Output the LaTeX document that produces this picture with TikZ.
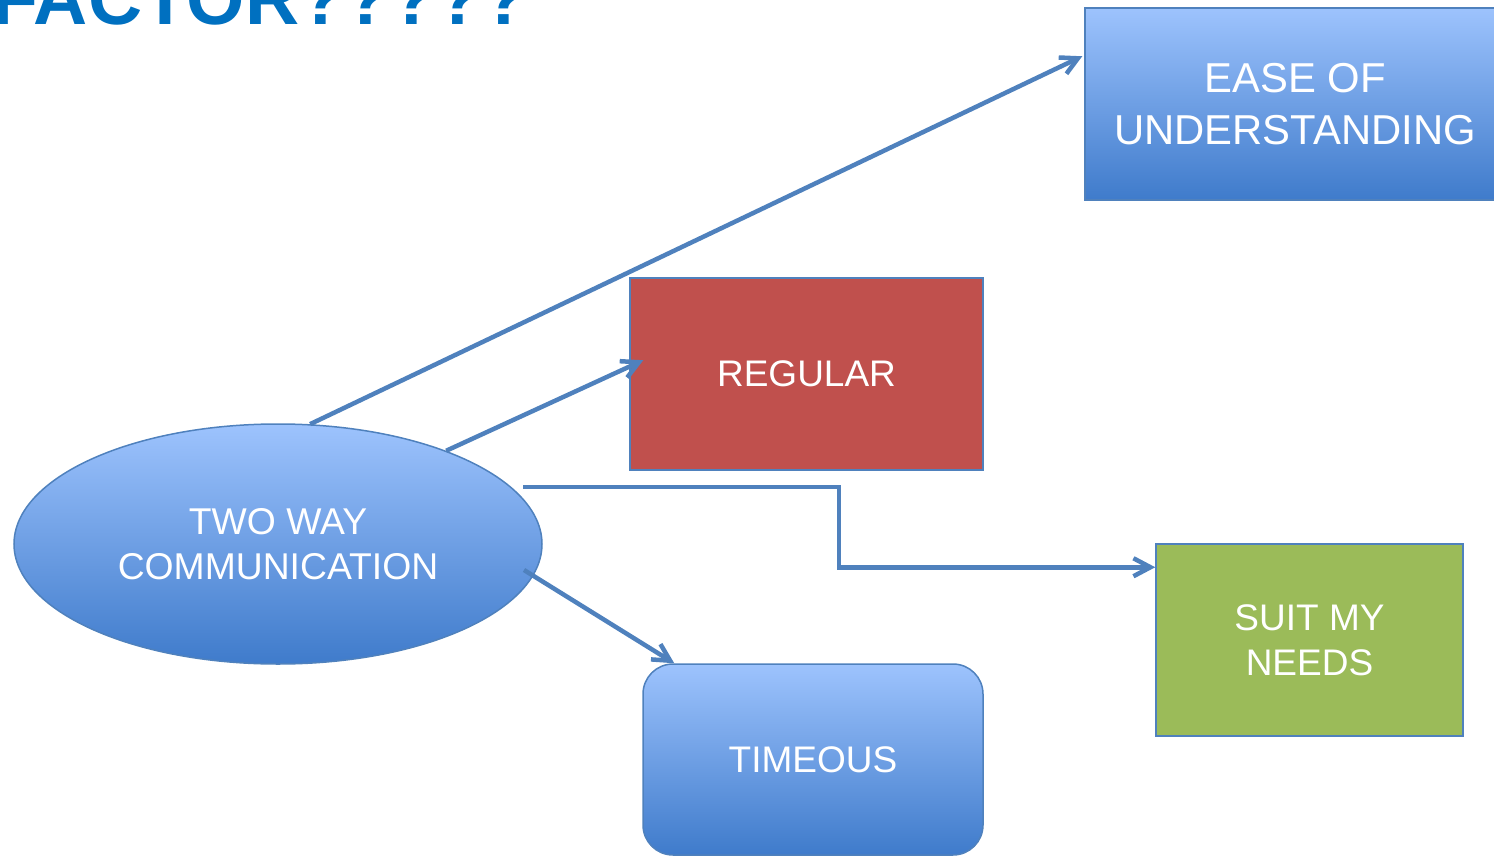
\documentclass[tikz,border=0pt]{standalone}
\usepackage{fontspec}
\setmainfont{Liberation Sans}
\usetikzlibrary{arrows.meta,shapes.geometric,calc}
\definecolor{edgeblue}{HTML}{4F81BD}
\definecolor{gradtop}{HTML}{9DC3FD}
\definecolor{gradbot}{HTML}{3F7BCB}
\definecolor{regred}{HTML}{C0504D}
\definecolor{suitgreen}{HTML}{9BBB59}
\definecolor{titleblue}{HTML}{0070C0}
\begin{document}
\begin{tikzpicture}[x=1pt,y=-1pt,
  box/.style={draw=edgeblue, line width=1.5pt, text=white, align=center, inner sep=0pt},
  gradfill/.style={top color=gradtop, bottom color=gradbot},
  label36/.style={font=\fontsize{37}{45}\selectfont},
  conn/.style={draw=edgeblue, line width=4.5pt, -{Straight Barb[length=17pt,width=18pt]}}]
\useasboundingbox (0,0) rectangle (1494,856);

% heading, partly above the page
\node[anchor=base west, inner sep=0pt, text=titleblue,
      font=\fontsize{75}{75}\selectfont\bfseries] (title) at (-8,25) {FACTOR?????};

% central ellipse and the four outcome boxes
\node[box, gradfill, ellipse, minimum width=528pt, minimum height=240pt,
      font=\fontsize{37.3}{45}\selectfont]
  (tw) at (278,544) {TWO WAY\\COMMUNICATION};
\node[box, fill=regred, minimum width=353pt, minimum height=192pt, label36]
  (reg) at (806.5,374) {REGULAR};
\node[box, gradfill, minimum width=420pt, minimum height=192pt,
      font=\fontsize{41.8}{52}\selectfont]
  (ease) at (1295,104) {EASE OF\\UNDERSTANDING};
\node[box, fill=suitgreen, minimum width=307pt, minimum height=192pt, label36]
  (suit) at (1309.5,640) {SUIT MY\\NEEDS};
\node[box, gradfill, rounded corners=30pt, minimum width=340pt, minimum height=191pt, label36]
  (time) at (813,759.5) {TIMEOUS};

% connector end points
\coordinate (s1) at (tw.75);
\coordinate (s2) at (tw.29);
\coordinate (s3) at ($(tw.center)+(245,-57)$);
\coordinate (s4) at ($(tw.center)+(246,26)$);
\coordinate (e1) at ($(ease.north west)+(-2,49)$);
\coordinate (e2) at ($(reg.north west)+(14,83)$);
\coordinate (e3) at ($(suit.north west)+(0,24)$);
\coordinate (e4) at ($(time.north west)+(32,0)$);
\coordinate (bend) at ($(s3)+(316,40)$);

\draw[conn] (s1) -- (e1);
\draw[conn] (s2) -- (e2);
\draw[conn] (s3) -| (bend) |- (e3);
\draw[conn] (s4) -- (e4);
\end{tikzpicture}
\end{document}
